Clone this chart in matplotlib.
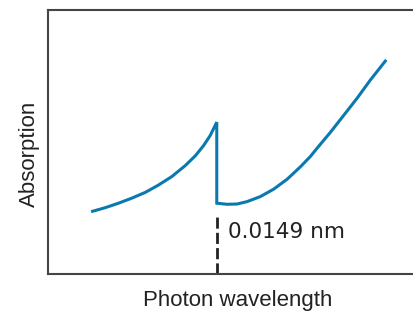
import matplotlib
matplotlib.use("Agg")
import matplotlib.pyplot as plt

# absorption curve (arbitrary units)
x_short = [1.17, 1.55, 1.91, 2.27, 2.64, 3.00, 3.36, 3.72, 4.00, 4.22, 4.40, 4.58]
y_short = [2.36, 2.51, 2.68, 2.87, 3.09, 3.37, 3.69, 4.10, 4.48, 4.86, 5.24, 5.75]

x_long = [4.58, 4.86, 5.13, 5.40, 5.76, 6.12, 6.49, 6.85, 7.12, 7.30,
          7.66, 8.02, 8.39, 8.75, 9.18]
y_long = [2.68, 2.64, 2.65, 2.74, 2.93, 3.21, 3.59, 4.06, 4.45, 4.76,
          5.36, 6.00, 6.66, 7.35, 8.11]

edge_x = 4.58
edge_label = "0.0149 nm"

fig = plt.figure(figsize=(4.14, 3.11), dpi=100)
ax = fig.add_axes([0.116, 0.119, 0.89, 0.849])

blue = "#0a79b0"
ax.plot(x_short + x_long, y_short + y_long, color=blue, lw=2.2,
        solid_joinstyle="miter", solid_capstyle="butt")

# absorption edge marker
ax.plot([edge_x, edge_x], [0.0, 2.2], color="#222222", lw=2.0,
        linestyle=(0, (4, 1.5)))
ax.text(edge_x + 0.3, 1.6, edge_label, fontsize=15.5, color="#222222",
        va="center", ha="left")

ax.set_xlim(0, 10)
ax.set_ylim(0, 10)
ax.set_xticks([])
ax.set_yticks([])
ax.spines["right"].set_visible(False)
for s in ["left", "bottom", "top"]:
    ax.spines[s].set_color("#444444")
    ax.spines[s].set_linewidth(1.5)

ax.set_xlabel("Photon wavelength", fontsize=16, family="Liberation Sans",
              color="#222222", labelpad=11.5, x=0.515)
ax.set_ylabel("Absorption", fontsize=16, family="Liberation Sans",
              color="#222222", labelpad=6, y=0.456)

plt.savefig("out.png", dpi=100)
